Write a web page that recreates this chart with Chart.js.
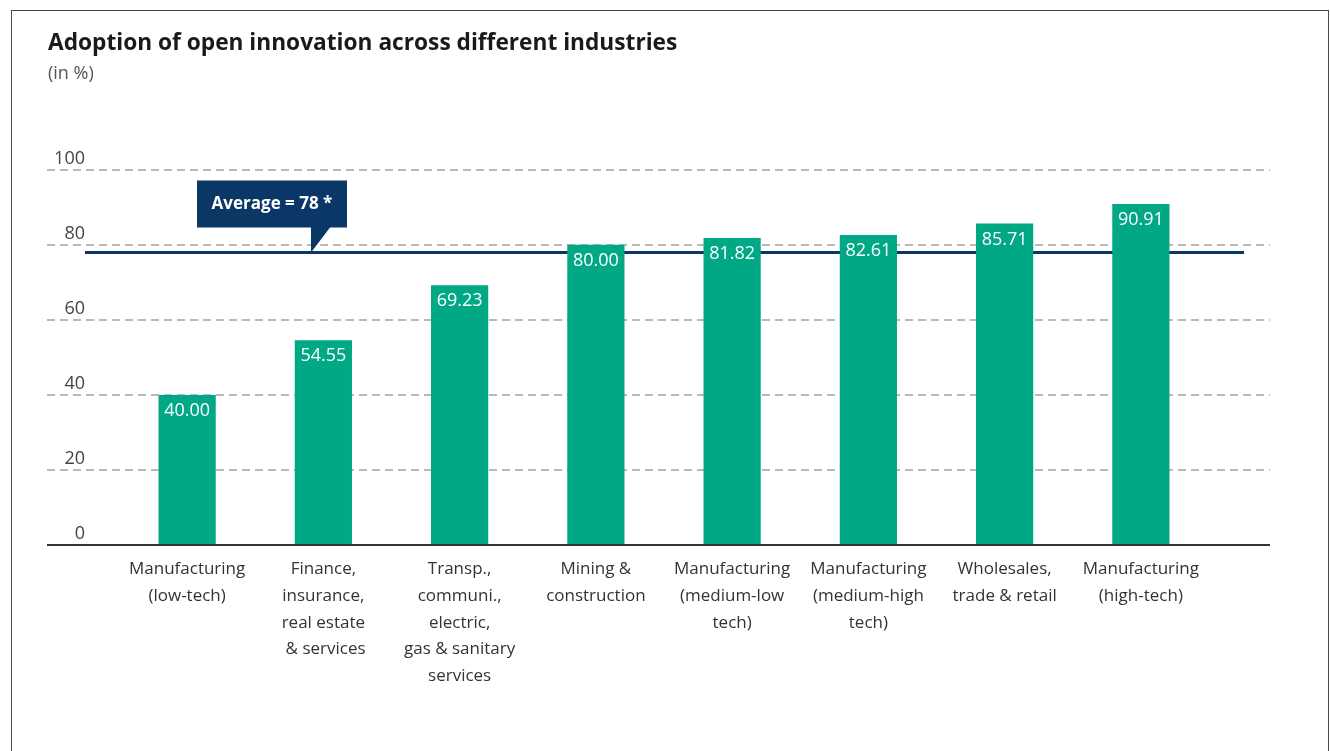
<!DOCTYPE html>
<html>
<head>
<meta charset="utf-8">
<script src="https://cdn.jsdelivr.net/npm/chart.js@4.4.0/dist/chart.umd.min.js"></script>
<style>
  html, body { margin: 0; padding: 0; background: #fff; }
  #wrap { position: relative; width: 1330px; height: 751px; overflow: hidden; }
  #frame { position: absolute; left: 11px; top: 10px; width: 1316px; height: 780px; border: 1px solid #4a4a4a; pointer-events: none; }
  canvas { position: absolute; left: 0; top: 0; }
</style>
</head>
<body>
<div id="wrap">
  <canvas id="adoptionChart" width="1330" height="751"></canvas>
  <div id="frame"></div>
</div>
<script>
const industries = [
  ['Manufacturing', '(low-tech)'],
  ['Finance,', 'insurance,', 'real estate', ' & services'],
  ['Transp.,', 'communi.,', 'electric,', 'gas & sanitary', 'services'],
  ['Mining &', 'construction'],
  ['Manufacturing', '(medium-low', 'tech)'],
  ['Manufacturing', '(medium-high', 'tech)'],
  ['Wholesales,', 'trade & retail'],
  ['Manufacturing', '(high-tech)']
];
const adoption = [40.00, 54.55, 69.23, 80.00, 81.82, 82.61, 85.71, 90.91];
const average = 78;
const yTicks = [0, 20, 40, 60, 80, 100];

const FONT = "'Open Sans', 'Noto Sans', sans-serif";
const green = '#00a886';
const navy = '#0a3766';

// dashed grid + average line with callout, behind the bars
const backdrop = {
  id: 'backdrop',
  beforeDatasetsDraw(chart) {
    const { ctx, chartArea, scales: { y } } = chart;
    const gx0 = chartArea.left - 72, gx1 = chartArea.right + 61;
    ctx.save();
    ctx.strokeStyle = '#a3a3a3';
    ctx.lineWidth = 1.5;
    ctx.setLineDash([8, 5]);
    yTicks.forEach(v => {
      if (v === 0) return;
      const py = Math.round(y.getPixelForValue(v));
      ctx.beginPath();
      ctx.moveTo(gx0, py);
      ctx.lineTo(gx1, py);
      ctx.stroke();
    });
    ctx.setLineDash([]);

    const ay = y.getPixelForValue(average);
    ctx.strokeStyle = navy;
    ctx.lineWidth = 3;
    ctx.beginPath();
    ctx.moveTo(chartArea.left - 34, ay);
    ctx.lineTo(chartArea.right + 35, ay);
    ctx.stroke();

    // callout box with pointer down to the line
    const bx = chartArea.left + 78, bw = 150;
    const bTop = ay - 72, bBot = ay - 25;
    const px = chartArea.left + 192;
    ctx.fillStyle = navy;
    ctx.beginPath();
    ctx.moveTo(bx, bTop);
    ctx.lineTo(bx + bw, bTop);
    ctx.lineTo(bx + bw, bBot);
    ctx.lineTo(px + 19, bBot);
    ctx.lineTo(px, ay);
    ctx.lineTo(px, bBot);
    ctx.lineTo(bx, bBot);
    ctx.closePath();
    ctx.fill();
    ctx.fillStyle = '#ffffff';
    ctx.font = 'bold 17px ' + FONT;
    ctx.textAlign = 'center';
    ctx.textBaseline = 'middle';
    ctx.fillText('Average = ' + average + ' *', bx + bw / 2, (bTop + bBot) / 2);
    ctx.restore();
  },
  afterDatasetsDraw(chart) {
    const { ctx, chartArea, scales: { y } } = chart;
    ctx.save();
    // baseline
    const zy = y.getPixelForValue(0);
    ctx.strokeStyle = '#333';
    ctx.lineWidth = 2;
    ctx.beginPath();
    ctx.moveTo(chartArea.left - 72, zy);
    ctx.lineTo(chartArea.right + 61, zy);
    ctx.stroke();

    // value labels inside the bar tops
    ctx.fillStyle = '#ffffff';
    ctx.font = '18px ' + FONT;
    ctx.textAlign = 'center';
    ctx.textBaseline = 'middle';
    chart.getDatasetMeta(0).data.forEach((bar, i) => {
      ctx.fillText(adoption[i].toFixed(2), bar.x, bar.y + 16);
    });
    ctx.restore();
  }
};

new Chart(document.getElementById('adoptionChart'), {
  type: 'bar',
  data: {
    labels: industries,
    datasets: [{
      data: adoption,
      backgroundColor: green,
      borderWidth: 0,
      categoryPercentage: 1,
      barPercentage: 0.42
    }]
  },
  options: {
    responsive: false,
    animation: false,
    layout: { padding: { left: 48, right: 121, top: 0, bottom: 0 } },
    plugins: {
      legend: { display: false },
      tooltip: { enabled: false },
      title: {
        display: true,
        text: 'Adoption of open innovation across different industries',
        align: 'start',
        color: '#1a1a1a',
        font: { family: FONT, size: 22.7, weight: 'bold', lineHeight: 1.2 },
        padding: { top: 30, bottom: 0 }
      },
      subtitle: {
        display: true,
        text: '(in %)',
        align: 'start',
        color: '#555',
        font: { family: FONT, size: 18, lineHeight: 1.2 },
        padding: { top: 6, bottom: 85 }
      }
    },
    scales: {
      x: {
        grid: { display: false },
        border: { display: false },
        ticks: {
          color: '#333',
          font: { family: FONT, size: 17, lineHeight: 1.57 },
          padding: 3,
          maxRotation: 0,
          autoSkip: false
        },
        afterFit(s) { s.height = 206; }
      },
      y: {
        min: 0,
        max: 100,
        afterBuildTicks(s) { s.ticks = yTicks.map(v => ({ value: v })); },
        grid: { display: false, drawTicks: false },
        border: { display: false },
        ticks: {
          color: '#444',
          font: { family: FONT, size: 18 },
          padding: 34,
          labelOffset: -11
        },
        afterFit(s) { s.width = 71; }
      }
    }
  },
  plugins: [backdrop]
});
</script>
</body>
</html>
